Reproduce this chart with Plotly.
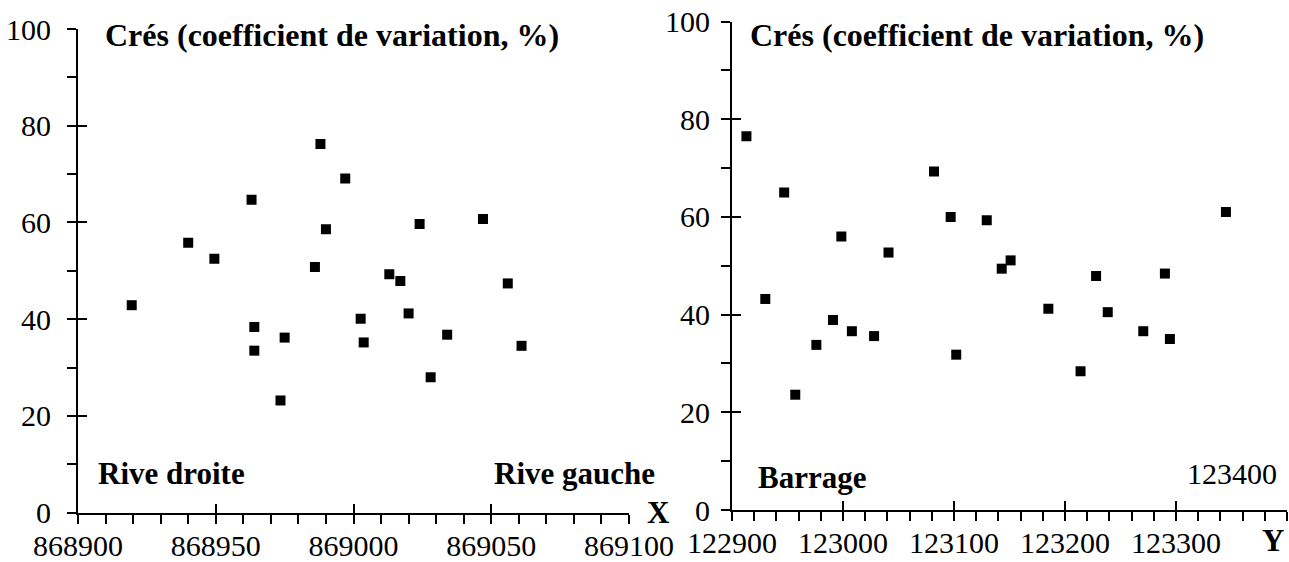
import plotly.graph_objects as go

# ---- data ----
x_left = [868988, 868997, 868963, 868940, 868949.5, 868990, 869024, 869047, 868986,
          869013, 869017, 869056, 868919.5, 868964, 868964, 868975, 868973.5,
          869002.6, 869003.7, 869020, 869034, 869028, 869061]
y_left = [76.2, 69.1, 64.7, 55.8, 52.5, 58.6, 59.7, 60.7, 50.8,
          49.3, 47.9, 47.4, 42.9, 38.4, 33.5, 36.2, 23.2,
          40.1, 35.2, 41.2, 36.8, 28.0, 34.5]

x_right = [122913, 122947, 123082, 123097, 123129.5, 123345, 122998.5, 123041, 123151,
           123143, 123228, 123290, 122930, 122957, 122976, 122991, 123008, 123028,
           123102, 123185, 123214, 123238.5, 123270.5, 123294.5]
y_right = [76.5, 65.0, 69.3, 60.0, 59.3, 61.0, 56.0, 52.7, 51.1,
           49.4, 47.9, 48.4, 43.2, 23.6, 33.8, 38.9, 36.6, 35.6,
           31.8, 41.2, 28.4, 40.5, 36.6, 35.0]

x_left_ticks = [868900, 868950, 869000, 869050, 869100]
x_left_labels = ["868900", "868950", "869000", "869050", "869100"]
x_right_ticks = [122900, 123000, 123100, 123200, 123300, 123400]
x_right_labels = ["122900", "123000", "123100", "123200", "123300", ""]
y_ticks = [0, 20, 40, 60, 80, 100]
y_labels = ["0", "20", "40", "60", "80", "100"]

title_text = "Crés (coefficient de variation, %)"
left_lo, left_hi = "Rive droite", "Rive gauche"
right_lo, right_hi = "Barrage", "123400"

# ---- styling ----
W, H = 1289, 562
SERIF = "Liberation Serif, Times New Roman, serif"
tickfont = dict(family=SERIF, size=30, color="black")

def px_x(p):
    return p / W

def px_y(p):
    return 1 - p / H

dom_xl = [px_x(78), px_x(629)]
dom_yl = [px_y(512.7), px_y(29)]
dom_xr = [px_x(732), px_x(1287)]
dom_yr = [px_y(510), px_y(21.5)]

fig = go.Figure()
marker = dict(symbol="square", size=10, color="black")
fig.add_trace(go.Scatter(x=x_left, y=y_left, mode="markers", marker=marker,
                         xaxis="x", yaxis="y", showlegend=False, hoverinfo="x+y"))
fig.add_trace(go.Scatter(x=x_right, y=y_right, mode="markers", marker=marker,
                         xaxis="x2", yaxis="y2", showlegend=False, hoverinfo="x+y"))
# invisible traces to carry the overlay axes (inner half of the major ticks)
fig.add_trace(go.Scatter(x=x_left[:1], y=y_left[:1], mode="markers", opacity=0,
                         xaxis="x3", yaxis="y3", showlegend=False, hoverinfo="skip"))
fig.add_trace(go.Scatter(x=x_right[:1], y=y_right[:1], mode="markers", opacity=0,
                         xaxis="x4", yaxis="y4", showlegend=False, hoverinfo="skip"))

def minor_vals(lo, hi, step):
    vals = []
    v = lo
    while v <= hi:
        vals.append(v)
        v += step
    return vals

def base_x(domain, rng, tickvals, ticktext, mstep, anchor):
    return dict(domain=domain, range=rng, anchor=anchor, showline=True, linewidth=2,
                linecolor="black", ticks="outside", ticklen=9, tickwidth=2,
                tickcolor="black", tickmode="array", tickvals=tickvals, ticktext=ticktext,
                tickfont=tickfont, showgrid=False, zeroline=False, fixedrange=True,
                automargin=False, ticklabelstandoff=-4,
                minor=dict(tickmode="array", tickvals=minor_vals(rng[0], rng[1], mstep),
                           ticks="outside", ticklen=9, tickwidth=2, tickcolor="black",
                           showgrid=False))

def base_y(domain, anchor, standoff):
    return dict(domain=domain, range=[0, 100], anchor=anchor, showline=True, linewidth=2,
                linecolor="black", ticks="outside", ticklen=9, tickwidth=2,
                tickcolor="black", tickmode="array", tickvals=y_ticks, ticktext=y_labels,
                tickfont=tickfont, showgrid=False, zeroline=False, fixedrange=True,
                automargin=False, ticklabelstandoff=standoff,
                minor=dict(tickmode="array", tickvals=minor_vals(10, 90, 20),
                           ticks="outside", ticklen=9, tickwidth=2, tickcolor="black",
                           showgrid=False))

def over_x(base, rng, tickvals, anchor):
    return dict(overlaying=base, anchor=anchor, range=rng, ticks="inside", ticklen=9,
                tickwidth=2, tickcolor="black", tickmode="array", tickvals=tickvals,
                showticklabels=False, showline=False, showgrid=False, zeroline=False,
                fixedrange=True, automargin=False)

def over_y(base, anchor):
    return dict(overlaying=base, anchor=anchor, range=[0, 100], ticks="inside", ticklen=9,
                tickwidth=2, tickcolor="black", tickmode="array", tickvals=y_ticks,
                showticklabels=False, showline=False, showgrid=False, zeroline=False,
                fixedrange=True, automargin=False)

rl = [x_left_ticks[0], x_left_ticks[-1]]
rr = [x_right_ticks[0], x_right_ticks[-1]]

fig.update_layout(
    width=W, height=H,
    margin=dict(l=0, r=0, t=0, b=0, pad=0, autoexpand=False),
    paper_bgcolor="white", plot_bgcolor="rgba(0,0,0,0)",
    showlegend=False,
    xaxis=base_x(dom_xl, rl, x_left_ticks, x_left_labels, 10, "y"),
    yaxis=base_y(dom_yl, "x", 10),
    xaxis2=base_x(dom_xr, rr, x_right_ticks, x_right_labels, 20, "y2"),
    yaxis2=base_y(dom_yr, "x2", 5),
    xaxis3=over_x("x", rl, x_left_ticks, "y3"),
    yaxis3=over_y("y", "x3"),
    xaxis4=over_x("x2", rr, x_right_ticks, "y4"),
    yaxis4=over_y("y2", "x4"),
)

bold = dict(family=SERIF, size=32, color="black")
bold_s = dict(family=SERIF, size=31, color="black")
reg = dict(family=SERIF, size=30, color="black")

def ann(text, x, y, xanchor, font):
    fig.add_annotation(text=text, x=px_x(x), y=px_y(y), xref="paper", yref="paper",
                       xanchor=xanchor, yanchor="middle", showarrow=False, font=font)

ann("<b>" + title_text + "</b>", 103, 35, "left", bold)
ann("<b>" + title_text + "</b>", 748, 35, "left", bold)
ann("<b>" + left_lo + "</b>", 96, 474, "left", bold_s)
ann("<b>" + left_hi + "</b>", 657, 474, "right", bold_s)
ann("<b>" + right_lo + "</b>", 756, 477, "left", bold_s)
ann(right_hi, 1279, 474, "right", reg)
ann("<b>X</b>", 658, 512, "center", bold_s)
ann("<b>Y</b>", 1273, 540, "center", bold_s)

fig.write_html(
    "out.html",
    config={"displayModeBar": False},
    post_script="document.body.style.margin='0';document.body.style.overflow='hidden';",
)
